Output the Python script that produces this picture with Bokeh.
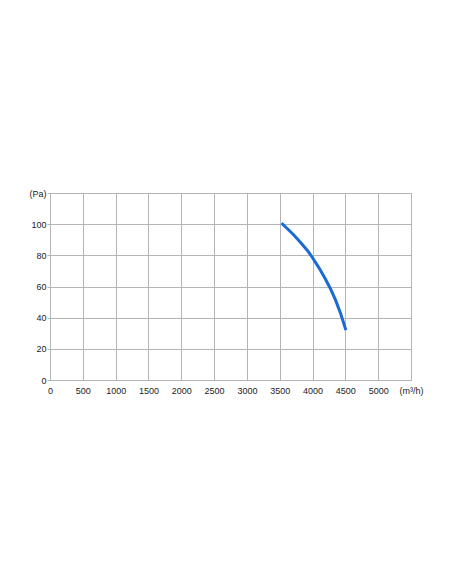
from bokeh.plotting import figure
from bokeh.models import Range1d, FixedTicker
from bokeh.embed import file_html
from bokeh.resources import INLINE

# data
flow = [3520, 3610, 3710, 3820, 3930, 4000, 4090, 4190, 4265, 4340, 4420, 4500]
pressure = [101, 97.4, 93.2, 88.1, 82.6, 78.3, 72.3, 65.0, 58.9, 51.9, 43.0, 32.3]
x_ticks = [0, 500, 1000, 1500, 2000, 2500, 3000, 3500, 4000, 4500, 5000, 5500]
y_ticks = [0, 20, 40, 60, 80, 100, 120]
x_unit = "(m³/h)"
y_unit = "(Pa)"

grid_color = "#b4b4b4"
font = "Liberation Sans"

p = figure(width=444, height=576, output_backend="svg", toolbar_location=None,
           x_range=Range1d(0, 5500), y_range=Range1d(0, 120),
           min_border_left=50, min_border_right=33, min_border_top=193,
           min_border_bottom=196)

p.line(flow, pressure, line_color="#1a6ad6", line_width=3, line_join="round")

p.xaxis.ticker = FixedTicker(ticks=x_ticks)
p.yaxis.ticker = FixedTicker(ticks=y_ticks)
p.xaxis.major_label_overrides = {5500: x_unit}
p.yaxis.major_label_overrides = {120: y_unit}

for ax in (p.xaxis, p.yaxis):
    ax.axis_line_color = grid_color
    ax.major_tick_line_color = grid_color
    ax.minor_tick_line_color = None
    ax.major_label_text_font = font
    ax.major_label_text_font_size = "9px"
    ax.major_label_text_color = "#222222"

p.xaxis.major_tick_out = 0
p.xaxis.major_tick_in = 0
p.xaxis.major_label_standoff = 5
p.yaxis.major_tick_out = 3
p.yaxis.major_tick_in = 0
p.yaxis.major_label_standoff = 1

p.xgrid.ticker = FixedTicker(ticks=x_ticks)
p.ygrid.ticker = FixedTicker(ticks=y_ticks)
p.grid.grid_line_color = grid_color
p.grid.grid_line_width = 1
p.outline_line_color = grid_color

open("out.html", "w").write(file_html(p, INLINE))
